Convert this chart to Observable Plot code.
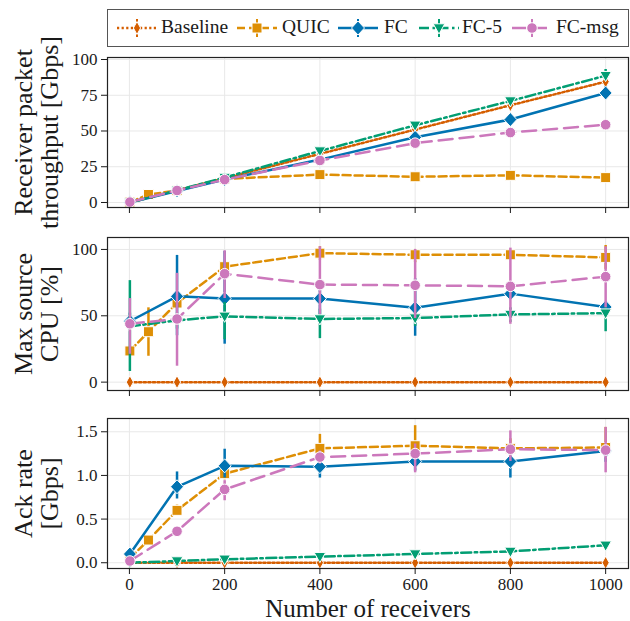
<!DOCTYPE html>
<html>
<head>
<meta charset="utf-8">
<script src="https://cdn.jsdelivr.net/npm/d3@7"></script>
<script src="https://cdn.jsdelivr.net/npm/@observablehq/plot@0.6"></script>
<style>
  body { margin: 0; background: #fff; width: 630px; height: 621px; position: relative; overflow: hidden; font-family: "Liberation Serif", serif; color: #1a1a1a; }
  #legend { position: absolute; left: 107px; top: 9px; width: 522px; height: 38px; border: 1.5px solid #555; box-sizing: border-box; }
  .lg-sw { position: absolute; top: 8px; }
  .lg-tx { position: absolute; top: 6px; font-size: 19.5px; line-height: 22px; white-space: nowrap; }
  .panel { position: absolute; left: 0; }
</style>
</head>
<body>
<div id="legend"></div>
<div id="p1" class="panel" style="top:50px"></div>
<div id="p2" class="panel" style="top:230px"></div>
<div id="p3" class="panel" style="top:411px"></div>
<script>
// ---------- data ----------
const seriesNames = ["Baseline", "QUIC", "FC", "FC-5", "FC-msg"];
const receivers = [1, 100, 200, 400, 600, 800, 1000];
const receiversQuic = [1, 40, 100, 200, 400, 600, 800, 1000];
const xTicks = [0, 200, 400, 600, 800, 1000];

// Receiver packet throughput [Gbps]
const tputBaseline = [0, 8.5, 17, 34, 51, 68, 84.5];
const tputQuic = [0.3, 5.6, 8.3, 16.5, 19.5, 18, 19, 17.4];
const tputFC = [0, 8, 16, 30, 45.6, 58, 76.6];
const tputFC5 = [0, 8.5, 17.5, 36, 54, 71, 88.7];
const tputMsg = [0.3, 8.4, 16, 29.4, 41.5, 48.9, 54.4];
const tputErrFC = [null, null, null, null, null, [55, 61], [72, 81]];
const tputErrFC5 = [null, null, null, null, null, null, [85, 93]];
const tputErrMsg = [null, null, null, null, null, null, [51, 58]];

// Max source CPU [%]
const cpuBaseline = [0, 0, 0, 0, 0, 0, 0];
const cpuQuic = [23.5, 38, 59.6, 87, 97.2, 96, 96, 94];
const cpuFC = [45.9, 64.7, 63, 63, 56, 66.7, 56.6];
const cpuFC5 = [42, 46.6, 49.6, 47.6, 48.3, 51, 52];
const cpuMsg = [44, 47.6, 81.7, 73.5, 73, 72.2, 79.5];
const cpuErrQuic = [null, [19.5, 56], null, null, [92, 102], [90, 100], [92, 100], [85, 103]];
const cpuErrFC = [[40, 52], [35, 95.5], [28.6, 98.5], [50, 75], [34.6, 78], [62, 70], [52, 60]];
const cpuErrFC5 = [[8, 76.5], [40, 52], [32, 60], [32.8, 55], [42, 55], [45, 56], [38, 56]];
const cpuErrMsg = [[21, 63], [12, 82], [63, 99], [51, 102], [48, 100], [43.6, 101], [56, 102]];

// Ack rate [Gbps]
const ackBaseline = [0, 0, 0, 0, 0, 0, 0];
const ackQuic = [0.05, 0.26, 0.60, 1.02, 1.31, 1.34, 1.31, 1.32];
const ackFC = [0.10, 0.87, 1.11, 1.10, 1.16, 1.16, 1.28];
const ackFC5 = [0.0, 0.02, 0.04, 0.07, 0.10, 0.13, 0.20];
const ackMsg = [0.02, 0.36, 0.84, 1.21, 1.25, 1.30, 1.29];
const ackErrQuic = [null, null, [0.55, 0.66], [0.95, 1.08], [1.16, 1.47], [1.2, 1.57], [1.2, 1.42], [1.2, 1.55]];
const ackErrFC = [null, [0.73, 1.04], [0.97, 1.30], [0.97, 1.24], [1.05, 1.25], [0.97, 1.25], [1.15, 1.35]];
const ackErrMsg = [null, null, [0.71, 0.94], [1.13, 1.28], [1.03, 1.36], [1.16, 1.51], [1.03, 1.55]];

// ---------- styles ----------
const colors = ["#d55e00", "#de8f05", "#0173b2", "#029e73", "#cc78bc"];
const dashes = ["2.2,2.4", "8,4", null, "10,3.5,2.5,3.5", "14,7"];
const sym = (pts) => ({ draw(ctx) { ctx.moveTo(pts[0][0], pts[0][1]); for (let i = 1; i < pts.length; i++) ctx.lineTo(pts[i][0], pts[i][1]); ctx.closePath(); } });
const symbols = [
  sym([[0, -6.5], [3.6, 0], [0, 6.5], [-3.6, 0]]),
  sym([[-5, -5], [5, -5], [5, 5], [-5, 5]]),
  sym([[0, -7], [6.5, 0], [0, 7], [-6.5, 0]]),
  sym([[-5.8, -4.2], [5.8, -4.2], [0, 6]]),
  { draw(ctx) { ctx.moveTo(5.3, 0); ctx.arc(0, 0, 5.3, 0, 2 * Math.PI); } }
];

function rows(xs, ys, errs) {
  return xs.map((x, i) => ({ x, y: ys[i], lo: errs && errs[i] ? errs[i][0] : null, hi: errs && errs[i] ? errs[i][1] : null }));
}

function panel(id, o) {
  const marks = [
    Plot.gridX(xTicks, { stroke: "#e8e8e8", strokeOpacity: 1, strokeWidth: 1 }),
    Plot.gridY(o.yTicks, { stroke: "#e8e8e8", strokeOpacity: 1, strokeWidth: 1 })
  ];
  o.series.forEach((data, k) => {
    marks.push(Plot.line(data, { x: "x", y: "y", stroke: colors[k], strokeWidth: 2.5, strokeDasharray: dashes[k] }));
    marks.push(Plot.ruleX(data.filter(d => d.lo != null), { x: "x", y1: "lo", y2: "hi", stroke: colors[k], strokeWidth: 2.5 }));
    marks.push(Plot.dot(data, { x: "x", y: "y", fill: colors[k], stroke: "white", strokeWidth: 1, symbol: symbols[k], r: 5 }));
  });
  marks.push(Plot.frame({ stroke: "#222", strokeWidth: 1.2 }));
  marks.push(Plot.axisY(o.yTicks, { tickSize: 6, tickPadding: 4, fontSize: 17, tickFormat: o.yFormat, label: null }));
  if (o.xLabel) {
    marks.push(Plot.axisX(xTicks, { tickSize: 6, tickPadding: 3, fontSize: 17, tickFormat: d => String(d), label: null }));
    marks.push(Plot.text([o.xLabel], { frameAnchor: "bottom", lineAnchor: "middle", textAnchor: "middle", dy: 40, fontSize: 25, text: d => d }));
  } else {
    marks.push(Plot.axisX(xTicks, { tickSize: 6, tickFormat: () => "", label: null }));
  }
  marks.push(Plot.text([o.yLabel], { frameAnchor: "left", textAnchor: "middle", lineAnchor: "middle", rotate: -90, dx: -71, fontSize: 26, lineHeight: 1.0, text: d => d }));
  const chart = Plot.plot({
    width: 630, height: o.height,
    marginLeft: 107, marginRight: 2, marginTop: o.marginTop, marginBottom: o.marginBottom,
    style: { fontFamily: "Liberation Serif, serif", fontSize: "17px", color: "#1a1a1a", background: "transparent", overflow: "visible" },
    x: { domain: [-46, 1048] },
    y: { domain: o.yDomain },
    marks
  });
  document.getElementById(id).appendChild(chart);
}

panel("p1", {
  height: 165, marginTop: 7, marginBottom: 8,
  yDomain: [-3.5, 101.4], yTicks: [0, 25, 50, 75, 100], yFormat: d => String(d),
  yLabel: "Receiver packet\nthroughput [Gbps]",
  series: [rows(receivers, tputBaseline), rows(receiversQuic, tputQuic), rows(receivers, tputFC, tputErrFC), rows(receivers, tputFC5, tputErrFC5), rows(receivers, tputMsg, tputErrMsg)]
});
panel("p2", {
  height: 168, marginTop: 7, marginBottom: 8,
  yDomain: [-6.3, 109], yTicks: [0, 50, 100], yFormat: d => String(d),
  yLabel: "Max source\nCPU [%]",
  series: [rows(receivers, cpuBaseline), rows(receiversQuic, cpuQuic, cpuErrQuic), rows(receivers, cpuFC, cpuErrFC), rows(receivers, cpuFC5, cpuErrFC5), rows(receivers, cpuMsg, cpuErrMsg)]
});
panel("p3", {
  height: 210, marginTop: 7, marginBottom: 53,
  yDomain: [-0.066, 1.652], yTicks: [0, 0.5, 1, 1.5], yFormat: d3.format(".1f"),
  yLabel: "Ack rate\n[Gbps]", xLabel: "Number of receivers",
  series: [rows(receivers, ackBaseline), rows(receiversQuic, ackQuic, ackErrQuic), rows(receivers, ackFC, ackErrFC), rows(receivers, ackFC5), rows(receivers, ackMsg, ackErrMsg)]
});

// ---------- legend ----------
const swatchX = [9, 129, 230, 311, 404];
const textX = [53, 174, 276, 354, 448];
const legend = document.getElementById("legend");
seriesNames.forEach((name, k) => {
  const svg = d3.create("svg").attr("class", "lg-sw").attr("width", 40).attr("height", 20)
    .style("left", swatchX[k] + "px");
  svg.append("line").attr("x1", 0).attr("x2", 40).attr("y1", 10).attr("y2", 10)
    .attr("stroke", colors[k]).attr("stroke-width", 2.5).attr("stroke-dasharray", dashes[k]);
  svg.append("line").attr("x1", 20).attr("x2", 20).attr("y1", 1).attr("y2", 19)
    .attr("stroke", colors[k]).attr("stroke-width", 2);
  const p = d3.path(); symbols[k].draw(p, 0);
  svg.append("path").attr("d", p.toString()).attr("transform", "translate(20,10)")
    .attr("fill", colors[k]).attr("stroke", "white").attr("stroke-width", 1);
  legend.appendChild(svg.node());
  const t = document.createElement("div");
  t.className = "lg-tx"; t.style.left = textX[k] + "px"; t.textContent = name;
  legend.appendChild(t);
});
</script>
</body>
</html>
